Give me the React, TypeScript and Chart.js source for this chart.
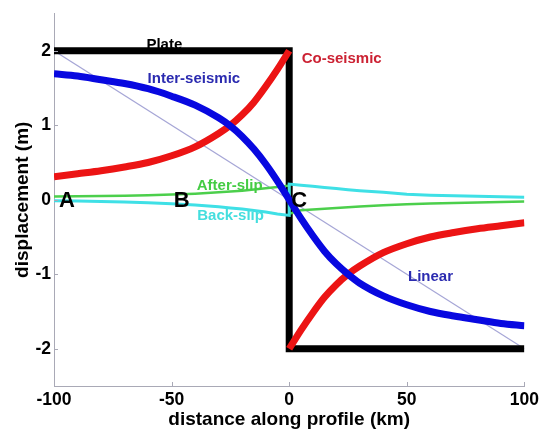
import React, { useEffect, useRef } from "react";
import { Chart, registerables } from "chart.js";

Chart.register(...registerables);

// ---------- data ----------
const distance = [-100, -90, -80, -70, -60, -50, -40, -30, -25, -20, -15, -10, -5, 0, 5, 10, 15, 20, 25, 30, 40, 50, 60, 70, 80, 90, 100];
const interSeismic = [1.69, 1.66, 1.61, 1.56, 1.49, 1.39, 1.27, 1.1, 0.99, 0.85, 0.68, 0.48, 0.25, 0, -0.25, -0.48, -0.69, -0.86, -1.0, -1.12, -1.29, -1.41, -1.5, -1.56, -1.61, -1.66, -1.69];

const distanceLeft = [-100, -90, -80, -70, -60, -50, -40, -30, -25, -20, -15, -10, -5, 0];
const distanceRight = [0, 5, 10, 15, 20, 25, 30, 40, 50, 60, 70, 80, 90, 100];
const coSeismicLeft = [0.31, 0.35, 0.39, 0.44, 0.5, 0.59, 0.71, 0.89, 1.0, 1.14, 1.31, 1.52, 1.75, 2.0];
const coSeismicRight = [-2.0, -1.75, -1.52, -1.31, -1.14, -1.0, -0.89, -0.71, -0.59, -0.5, -0.44, -0.39, -0.35, -0.31];

const afterSlipLeft = [0.044, 0.047, 0.05, 0.055, 0.062, 0.07, 0.082, 0.1, 0.11, 0.122, 0.137, 0.153, 0.172, 0.19];
const afterSlipRight = [-0.19, -0.14, -0.13, -0.12, -0.11, -0.1, -0.092, -0.075, -0.06, -0.052, -0.045, -0.037, -0.03, -0.022];
const backSlipLeft = [-0.015, -0.018, -0.023, -0.03, -0.04, -0.055, -0.07, -0.095, -0.11, -0.125, -0.145, -0.165, -0.19, -0.21];
const backSlipRight = [0.21, 0.195, 0.18, 0.165, 0.15, 0.135, 0.122, 0.1, 0.075, 0.062, 0.054, 0.047, 0.04, 0.034];

const plateDistance = [-100, 0, 0, 100];
const plateDisplacement = [2, 2, -2, -2];
const linearDistance = [-100, 100];
const linearDisplacement = [2, -2];

const xTickValues = [-100, -50, 0, 50, 100];
const yTickValues = [-2, -1, 0, 1, 2];

// text annotations anchored in data coordinates
const curveLabels = [
  { key: "plate", text: "Plate", x: -60.7, y: 2.03 },
  { key: "co", text: "Co-seismic", x: 5.3, y: 1.84 },
  { key: "inter", text: "Inter-seismic", x: -60.2, y: 1.57 },
  { key: "after", text: "After-slip", x: -39.3, y: 0.134 },
  { key: "back", text: "Back-slip", x: -39.1, y: -0.27 },
  { key: "linear", text: "Linear", x: 50.5, y: -1.086 },
];
const pointLabels = [
  { text: "A", x: -94.5, y: 0 },
  { text: "B", x: -45.7, y: 0 },
  { text: "C", x: 4.2, y: 0 },
];

// ---------- styles ----------
const FONT = '"Liberation Sans", Arial, Helvetica, sans-serif';
const AXIS = "#a9a9b6";
const labelColors: Record<string, string> = {
  plate: "#000000",
  co: "#cc2233",
  inter: "#2b2bb0",
  after: "#44cc44",
  back: "#44dede",
  linear: "#2b2bb0",
};

const pts = (xs: number[], ys: number[]) => xs.map((x, i) => ({ x, y: ys[i] }));

export default function App() {
  const ref = useRef<HTMLCanvasElement | null>(null);

  useEffect(() => {
    if (!ref.current) return;

    const drawLabel = (chart: any, l: any) => {
      const { ctx, scales } = chart;
      ctx.font = `bold 15px ${FONT}`;
      ctx.fillStyle = labelColors[l.key];
      ctx.textAlign = "left";
      ctx.textBaseline = "alphabetic";
      ctx.fillText(l.text, scales.x.getPixelForValue(l.x), scales.y.getPixelForValue(l.y));
    };

    const annotations = {
      id: "annotations",
      beforeDatasetsDraw(chart: any) {
        const { ctx } = chart;
        ctx.save();
        curveLabels.filter((l) => l.key === "plate").forEach((l) => drawLabel(chart, l));
        ctx.restore();
      },
      afterDatasetsDraw(chart: any) {
        const { ctx, scales, chartArea } = chart;
        ctx.save();
        // inward tick marks
        ctx.strokeStyle = AXIS;
        ctx.lineWidth = 1;
        ctx.beginPath();
        xTickValues.forEach((v) => {
          const px = Math.round(scales.x.getPixelForValue(v)) + 0.5;
          ctx.moveTo(px, chartArea.bottom);
          ctx.lineTo(px, chartArea.bottom - 4);
        });
        yTickValues.forEach((v) => {
          const py = Math.round(scales.y.getPixelForValue(v)) + 0.5;
          ctx.moveTo(chartArea.left, py);
          ctx.lineTo(chartArea.left + 4, py);
        });
        ctx.stroke();

        curveLabels.filter((l) => l.key !== "plate").forEach((l) => drawLabel(chart, l));

        ctx.font = `bold 22px ${FONT}`;
        ctx.fillStyle = "#000";
        ctx.textAlign = "center";
        ctx.textBaseline = "middle";
        pointLabels.forEach((l) => {
          ctx.fillText(l.text, scales.x.getPixelForValue(l.x), scales.y.getPixelForValue(l.y) + 1);
        });
        ctx.restore();
      },
    };

    const chart = new Chart(ref.current, {
      type: "line",
      data: {
        datasets: [
          {
            label: "Inter-seismic",
            data: pts(distance, interSeismic),
            borderColor: "#0808e0",
            borderWidth: 7,
            cubicInterpolationMode: "monotone",
          },
          {
            label: "Co-seismic left",
            data: pts(distanceLeft, coSeismicLeft),
            borderColor: "#ec1414",
            borderWidth: 7,
            cubicInterpolationMode: "monotone",
          },
          {
            label: "Co-seismic right",
            data: pts(distanceRight, coSeismicRight),
            borderColor: "#ec1414",
            borderWidth: 7,
            cubicInterpolationMode: "monotone",
          },
          {
            label: "Back-slip",
            data: pts([...distanceLeft, ...distanceRight], [...backSlipLeft, ...backSlipRight]),
            borderColor: "#3fe0e6",
            borderWidth: 3,
          },
          {
            label: "After-slip",
            data: pts([...distanceLeft, ...distanceRight], [...afterSlipLeft, ...afterSlipRight]),
            borderColor: "#4ccf4c",
            borderWidth: 2.5,
          },
          {
            label: "Plate",
            data: pts(plateDistance, plateDisplacement),
            borderColor: "#000000",
            borderWidth: 7,
            borderJoinStyle: "miter",
          },
          {
            label: "Linear",
            data: pts(linearDistance, linearDisplacement),
            borderColor: "#a6a6d6",
            borderWidth: 1.2,
          },
        ],
      },
      options: {
        animation: false,
        responsive: true,
        maintainAspectRatio: false,
        layout: { padding: { top: 12, right: 16, left: 0, bottom: 0 } },
        plugins: { legend: { display: false }, tooltip: { enabled: false } },
        elements: { point: { radius: 0, hoverRadius: 0 }, line: { tension: 0, fill: false } },
        scales: {
          x: {
            type: "linear",
            min: -100,
            max: 100,
            afterFit: (s: any) => {
              s.height = 46;
            },
            afterBuildTicks: (s: any) => {
              s.ticks = xTickValues.map((v) => ({ value: v }));
            },
            ticks: {
              padding: 4,
              color: "#000",
              maxRotation: 0,
              autoSkip: false,
              font: { family: FONT, size: 17.5, weight: "bold" },
            },
            grid: { display: false, drawTicks: false },
            border: { display: true, color: AXIS, width: 1 },
            title: {
              display: true,
              text: "distance along profile (km)",
              color: "#000",
              font: { family: FONT, size: 19, weight: "bold" },
              padding: { top: 0, bottom: 1 },
            },
          },
          y: {
            type: "linear",
            min: -2.5,
            max: 2.5,
            afterFit: (s: any) => {
              s.width = 54;
            },
            afterBuildTicks: (s: any) => {
              s.ticks = yTickValues.map((v) => ({ value: v }));
            },
            ticks: {
              padding: 3,
              color: "#000",
              font: { family: FONT, size: 17.5, weight: "bold" },
            },
            grid: { display: false, drawTicks: false },
            border: { display: true, color: AXIS, width: 1 },
            title: {
              display: true,
              text: "displacement (m)",
              color: "#000",
              font: { family: FONT, size: 19, weight: "bold" },
              padding: { top: 11, bottom: 0 },
            },
          },
        },
      },
      plugins: [annotations],
    } as any);

    return () => chart.destroy();
  }, []);

  return (
    <div style={{ position: "absolute", left: 0, top: 0, width: 543, height: 432, background: "#fff" }}>
      <canvas ref={ref} />
    </div>
  );
}
